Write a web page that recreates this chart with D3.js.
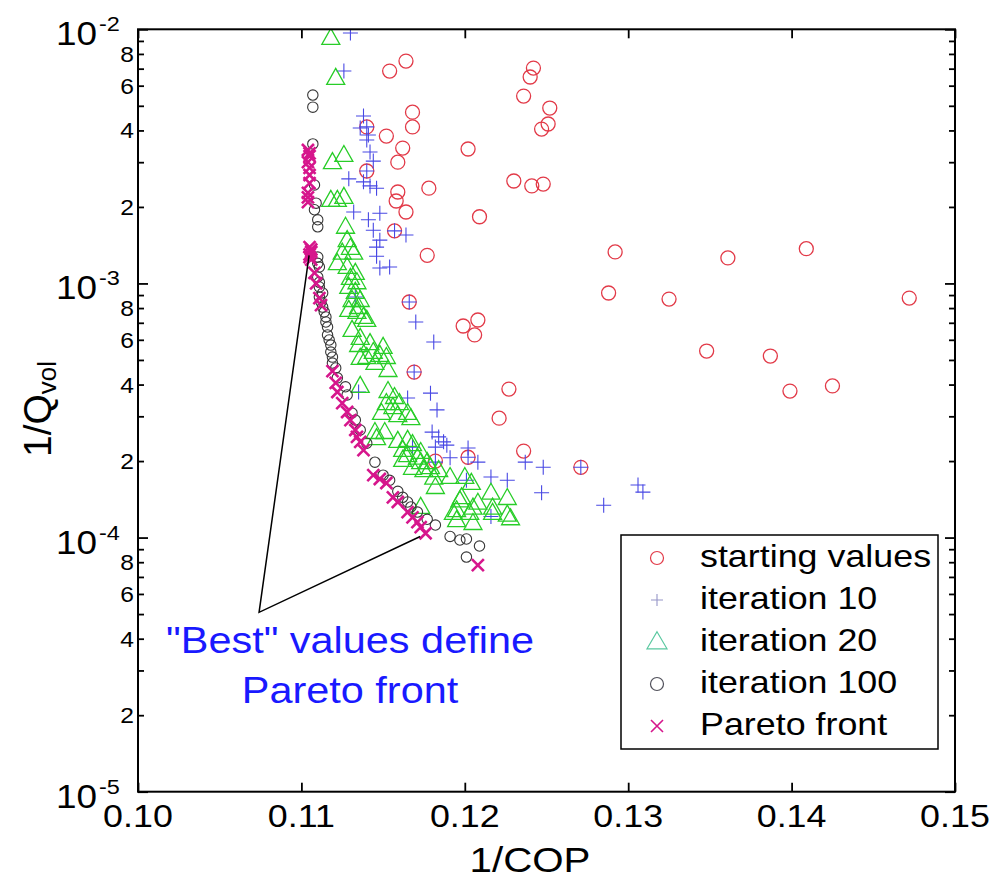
<!DOCTYPE html>
<html><head><meta charset="utf-8">
<script src="https://cdn.jsdelivr.net/npm/d3@7/dist/d3.min.js"></script>
<style>body{margin:0;background:#fff}svg{display:block}</style>
</head><body>
<svg id="c" width="996" height="879"></svg>
<script>
// ---------- data (1/COP, 1/Qvol) ----------
const startingValues = [[0.1154,6.85e-3],[0.1164,7.50e-3],[0.1242,7.04e-3],[0.1240,6.49e-3],[0.1236,5.46e-3],[0.1252,4.90e-3],[0.1251,4.24e-3],[0.1247,4.05e-3],[0.1168,4.72e-3],[0.1168,4.13e-3],[0.1140,4.13e-3],[0.1152,3.80e-3],[0.1162,3.41e-3],[0.1159,3.00e-3],[0.1202,3.38e-3],[0.1140,2.77e-3],[0.1159,2.29e-3],[0.1158,2.11e-3],[0.1164,1.91e-3],[0.1178,2.37e-3],[0.1230,2.53e-3],[0.1241,2.42e-3],[0.1248,2.46e-3],[0.1209,1.83e-3],[0.1157,1.61e-3],[0.1177,1.29e-3],[0.1292,1.33e-3],[0.1288,9.17e-4],[0.1325,8.68e-4],[0.1361,1.26e-3],[0.1409,1.37e-3],[0.1472,8.76e-4],[0.1348,5.42e-4],[0.1387,5.18e-4],[0.1399,3.77e-4],[0.1425,3.95e-4],[0.1271,1.89e-4],[0.1166,8.45e-4],[0.1199,6.80e-4],[0.1208,7.18e-4],[0.1206,6.27e-4],[0.1169,4.48e-4],[0.1227,3.84e-4],[0.1221,2.95e-4],[0.1236,2.19e-4],[0.1202,2.07e-4],[0.1182,2.00e-4]];

const iteration10 = [[0.1130,9.67e-3],[0.1126,6.85e-3],[0.1138,4.56e-3],[0.1136,4.09e-3],[0.1140,4.13e-3],[0.1141,3.84e-3],[0.1140,3.67e-3],[0.1142,3.29e-3],[0.1144,3.03e-3],[0.1129,2.58e-3],[0.1138,2.51e-3],[0.1142,2.42e-3],[0.1146,2.37e-3],[0.1140,2.77e-3],[0.1132,1.91e-3],[0.1141,1.78e-3],[0.1148,1.89e-3],[0.1144,1.62e-3],[0.1148,1.48e-3],[0.1146,1.39e-3],[0.1157,1.61e-3],[0.1164,1.55e-3],[0.1146,1.28e-3],[0.1148,1.15e-3],[0.1154,1.16e-3],[0.1166,8.45e-4],[0.1170,7.05e-4],[0.1181,5.88e-4],[0.1169,4.48e-4],[0.1133,8.84e-4],[0.1135,3.74e-4],[0.1165,3.54e-4],[0.1179,3.70e-4],[0.1183,3.18e-4],[0.1180,2.60e-4],[0.1184,2.49e-4],[0.1187,2.38e-4],[0.1189,2.31e-4],[0.1182,2.27e-4],[0.1168,2.27e-4],[0.1191,2.06e-4],[0.1202,2.25e-4],[0.1182,1.98e-4],[0.1208,1.98e-4],[0.1202,2.07e-4],[0.1216,1.73e-4],[0.1226,1.68e-4],[0.1237,1.98e-4],[0.1248,1.89e-4],[0.1247,1.50e-4],[0.1271,1.89e-4],[0.1285,1.34e-4],[0.1306,1.61e-4],[0.1309,1.51e-4],[0.1216,1.21e-4],[0.1201,1.68e-4]];

const iteration20 = [[0.1118,9.24e-3],[0.1121,6.43e-3],[0.1119,3.00e-3],[0.1126,3.20e-3],[0.1118,2.13e-3],[0.1122,2.13e-3],[0.1126,2.19e-3],[0.1127,1.67e-3],[0.1128,1.48e-3],[0.1130,1.38e-3],[0.1125,1.32e-3],[0.1132,1.32e-3],[0.1122,1.20e-3],[0.1128,1.16e-3],[0.1133,1.10e-3],[0.1130,1.05e-3],[0.1134,1.01e-3],[0.1129,9.68e-4],[0.1133,9.25e-4],[0.1131,8.60e-4],[0.1136,8.60e-4],[0.1135,8.07e-4],[0.1129,7.86e-4],[0.1134,7.72e-4],[0.1138,7.38e-4],[0.1140,7.18e-4],[0.1131,6.56e-4],[0.1136,6.10e-4],[0.1135,5.72e-4],[0.1142,5.82e-4],[0.1150,5.62e-4],[0.1144,5.37e-4],[0.1148,5.23e-4],[0.1136,5.09e-4],[0.1140,5.13e-4],[0.1152,5.13e-4],[0.1145,4.86e-4],[0.1153,4.56e-4],[0.1136,3.95e-4],[0.1153,3.77e-4],[0.1157,3.57e-4],[0.1156,3.26e-4],[0.1160,3.38e-4],[0.1152,3.38e-4],[0.1165,3.09e-4],[0.1149,3.09e-4],[0.1159,3.03e-4],[0.1167,2.95e-4],[0.1145,2.60e-4],[0.1151,2.60e-4],[0.1146,2.46e-4],[0.1159,2.40e-4],[0.1165,2.42e-4],[0.1168,2.33e-4],[0.1162,2.21e-4],[0.1173,2.17e-4],[0.1165,2.11e-4],[0.1162,2.02e-4],[0.1171,2.06e-4],[0.1173,1.98e-4],[0.1177,1.98e-4],[0.1168,1.88e-4],[0.1179,1.89e-4],[0.1175,1.84e-4],[0.1184,1.84e-4],[0.1191,1.73e-4],[0.1181,1.72e-4],[0.1200,1.73e-4],[0.1204,1.64e-4],[0.1182,1.58e-4],[0.1198,1.44e-4],[0.1208,1.37e-4],[0.1197,1.40e-4],[0.1216,1.50e-4],[0.1226,1.43e-4],[0.1195,1.28e-4],[0.1203,1.25e-4],[0.1193,1.25e-4],[0.1217,1.31e-4],[0.1205,1.31e-4],[0.1226,1.23e-4],[0.1228,1.19e-4],[0.1195,1.17e-4],[0.1205,1.14e-4],[0.1173,1.32e-4],[0.1217,1.25e-4]];

const iteration100 = [[0.1107,5.51e-3],[0.1107,4.94e-3],[0.1107,3.54e-3],[0.1108,2.44e-3],[0.1109,2.07e-3],[0.1108,1.95e-3],[0.1110,1.78e-3],[0.1110,1.67e-3],[0.1110,1.27e-3],[0.1110,1.20e-3],[0.1111,1.16e-3],[0.1110,1.06e-3],[0.1111,1.01e-3],[0.1111,9.68e-4],[0.1113,9.17e-4],[0.1111,8.84e-4],[0.1112,8.45e-4],[0.1113,8.07e-4],[0.1114,7.72e-4],[0.1115,7.38e-4],[0.1115,7.05e-4],[0.1116,6.74e-4],[0.1116,6.27e-4],[0.1117,5.99e-4],[0.1118,5.72e-4],[0.1118,5.37e-4],[0.1119,5.13e-4],[0.1119,4.86e-4],[0.1121,4.65e-4],[0.1122,4.25e-4],[0.1127,3.92e-4],[0.1128,3.64e-4],[0.1131,3.09e-4],[0.1133,2.90e-4],[0.1136,2.65e-4],[0.1140,2.35e-4],[0.1145,1.98e-4],[0.1150,1.76e-4],[0.1154,1.68e-4],[0.1159,1.52e-4],[0.1162,1.44e-4],[0.1165,1.38e-4],[0.1167,1.32e-4],[0.1171,1.26e-4],[0.1177,1.18e-4],[0.1182,1.12e-4],[0.1191,1.01e-4],[0.1197,9.78e-5],[0.1201,9.87e-5],[0.1209,9.26e-5],[0.1201,8.38e-5]];

const paretoFront = [[0.1104,3.35e-3],[0.1105,3.25e-3],[0.1105,3.17e-3],[0.1104,3.00e-3],[0.1105,2.85e-3],[0.1105,2.67e-3],[0.1105,2.48e-3],[0.1104,2.27e-3],[0.1104,2.18e-3],[0.1104,2.09e-3],[0.1105,1.39e-3],[0.1106,1.36e-3],[0.1106,1.33e-3],[0.1105,1.30e-3],[0.1105,1.27e-3],[0.1106,1.24e-3],[0.1108,1.10e-3],[0.1109,1.00e-3],[0.1111,8.76e-4],[0.1112,8.22e-4],[0.1119,4.52e-4],[0.1121,4.06e-4],[0.1122,3.74e-4],[0.1125,3.38e-4],[0.1128,3.12e-4],[0.1130,2.90e-4],[0.1133,2.65e-4],[0.1134,2.49e-4],[0.1136,2.38e-4],[0.1138,2.21e-4],[0.1144,1.76e-4],[0.1148,1.70e-4],[0.1152,1.64e-4],[0.1156,1.44e-4],[0.1159,1.38e-4],[0.1165,1.26e-4],[0.1168,1.20e-4],[0.1171,1.15e-4],[0.1173,1.10e-4],[0.1176,1.04e-4],[0.1208,7.79e-5]];

const xTicks = [0.10, 0.11, 0.12, 0.13, 0.14, 0.15];
const xTickLabels = ["0.10", "0.11", "0.12", "0.13", "0.14", "0.15"];
const yMajorTicks = [1e-2, 1e-3, 1e-4, 1e-5];
const yMajorExponents = ["-2", "-3", "-4", "-5"];
const yMinorLabelMantissas = [2, 4, 6, 8];
const legendLabels = ["starting values", "iteration 10", "iteration 20", "iteration 100", "Pareto front"];
const annotationLines = ['"Best" values define', "Pareto front"];
const annotationPointer = [[0.11047, 1.29e-3], [0.10741, 5.08e-5], [0.11727, 1.01e-4]];
const xAxisTitle = "1/COP";

// ---------- layout ----------
const FONT = "'Liberation Sans', Arial, Helvetica, sans-serif";
const SX = 1.12; // horizontal glyph stretch of the original
const svg = d3.select("#c").style("font-family", FONT);
const L = 138, R = 955, T = 29.3, B = 791.7;
const x = d3.scaleLinear().domain([0.10, 0.15]).range([L, R]);
const y = d3.scaleLog().domain([1e-5, 1e-2]).range([B, T]);

const colors = {
  start: "rgb(226,58,72)",
  it10: "rgb(72,72,228)",
  it20: "rgb(40,205,40)",
  it100: "rgb(55,55,55)",
  pareto: "rgb(214,22,140)"
};

function stretchedText(parent, px, py, str, size, anchor, fill) {
  return parent.append("text")
    .attr("transform", `translate(${px},${py}) scale(${SX},1)`)
    .attr("text-anchor", anchor)
    .attr("font-size", size)
    .attr("fill", fill || "#000")
    .text(str);
}

// ---------- axes ticks ----------
const minorVals = [];
[1e-5, 1e-4, 1e-3].forEach(d => { for (let k = 2; k <= 9; k++) minorVals.push(d * k); });

function styleAxis(g) {
  g.select(".domain").remove();
  g.selectAll(".tick line").attr("stroke", "#000").attr("stroke-width", 1.8);
  g.selectAll(".tick text").remove();
}
svg.append("g").attr("transform", `translate(0,${B})`)
  .call(d3.axisBottom(x).tickValues(xTicks).tickSize(-9)).call(styleAxis);
svg.append("g").attr("transform", `translate(0,${T})`)
  .call(d3.axisTop(x).tickValues(xTicks).tickSize(-9)).call(styleAxis);
svg.append("g").attr("transform", `translate(${L},0)`)
  .call(d3.axisLeft(y).tickValues(yMajorTicks).tickSize(-10)).call(styleAxis);
svg.append("g").attr("transform", `translate(${L},0)`)
  .call(d3.axisLeft(y).tickValues(minorVals).tickSize(-6)).call(styleAxis);
svg.append("g").attr("transform", `translate(${R},0)`)
  .call(d3.axisRight(y).tickValues(yMajorTicks).tickSize(-10)).call(styleAxis);
svg.append("g").attr("transform", `translate(${R},0)`)
  .call(d3.axisRight(y).tickValues(minorVals).tickSize(-6)).call(styleAxis);

// tick labels
xTicks.forEach((v, i) => stretchedText(svg, x(v), 827, xTickLabels[i], 32, "middle"));
yMajorTicks.forEach((v, i) => {
  stretchedText(svg, 97, y(v) + 16, "10", 33, "end");
  stretchedText(svg, 99, y(v) + 2, yMajorExponents[i], 21, "start");
});
[1e-5, 1e-4, 1e-3].forEach(d => yMinorLabelMantissas.forEach(m => {
  stretchedText(svg, 134, y(d * m) + 8, String(m), 22, "end");
}));

// axis titles
stretchedText(svg, 530, 872, xAxisTitle, 36, "middle");
const yt = svg.append("text")
  .attr("transform", "translate(51,457) rotate(-90)")
  .attr("font-size", 39).attr("text-anchor", "start");
yt.append("tspan").text("1/Q");
yt.append("tspan").attr("font-size", 26).attr("dy", 5).text("vol");

// ---------- markers ----------
svg.append("clipPath").attr("id", "clip").append("rect")
  .attr("x", L).attr("y", T).attr("width", R - L).attr("height", B - T);
const plot = svg.append("g").attr("clip-path", "url(#clip)");

function circles(g, data, r, color, sw) {
  g.selectAll(null).data(data).enter().append("circle")
    .attr("cx", d => x(d[0])).attr("cy", d => y(d[1])).attr("r", r)
    .attr("fill", "none").attr("stroke", color).attr("stroke-width", sw);
}
function crosses(g, data, h, color, sw) {
  g.selectAll(null).data(data).enter().append("path")
    .attr("d", d => { const cx = x(d[0]), cy = y(d[1]);
      return `M${cx - h},${cy}H${cx + h}M${cx},${cy - h}V${cy + h}`; })
    .attr("stroke", color).attr("stroke-width", sw).attr("fill", "none");
}
function triangles(g, data, w, hgt, color, sw) {
  g.selectAll(null).data(data).enter().append("path")
    .attr("d", d => { const cx = x(d[0]), cy = y(d[1]);
      return `M${cx},${cy - hgt * 0.6}L${cx + w / 2},${cy + hgt * 0.4}L${cx - w / 2},${cy + hgt * 0.4}Z`; })
    .attr("stroke", color).attr("stroke-width", sw).attr("fill", "none");
}
function xmarks(g, data, h, color, sw) {
  g.selectAll(null).data(data).enter().append("path")
    .attr("d", d => { const cx = x(d[0]), cy = y(d[1]);
      return `M${cx - h},${cy - h}L${cx + h},${cy + h}M${cx - h},${cy + h}L${cx + h},${cy - h}`; })
    .attr("stroke", color).attr("stroke-width", sw).attr("fill", "none");
}

circles(plot, startingValues, 7, colors.start, 1.3);
crosses(plot, iteration10, 7.5, colors.it10, 1.1);
triangles(plot, iteration20, 18, 16, colors.it20, 1.3);
circles(plot, iteration100, 5.2, colors.it100, 1.1);
xmarks(plot, paretoFront, 6, colors.pareto, 2.6);

// ---------- annotation ----------
svg.append("path")
  .attr("d", d3.line().x(d => x(d[0])).y(d => y(d[1]))(annotationPointer))
  .attr("fill", "none").attr("stroke", "#000").attr("stroke-width", 1.5);
annotationLines.forEach((t, i) => stretchedText(svg, 350, 653 + i * 50, t, 37, "middle", "rgb(25,25,255)"));

// ---------- legend ----------
const lg = svg.append("g");
lg.append("rect").attr("x", 621).attr("y", 535).attr("width", 317).attr("height", 214)
  .attr("fill", "#fff").attr("stroke", "#000").attr("stroke-width", 1.5);
const rowY = i => 558 + i * 42;
const symX = 657;
circles(lg, [[x.invert(symX), y.invert(rowY(0))]], 6.5, colors.start, 1.2);
crosses(lg, [[x.invert(symX), y.invert(rowY(1))]], 6, "rgb(150,150,200)", 1.1);
triangles(lg, [[x.invert(symX), y.invert(rowY(2))]], 20, 17, "rgb(90,200,160)", 1.2);
circles(lg, [[x.invert(symX), y.invert(rowY(3))]], 6.5, "rgb(80,80,90)", 1.2);
xmarks(lg, [[x.invert(symX), y.invert(rowY(4))]], 6, colors.pareto, 1.6);
legendLabels.forEach((t, i) => stretchedText(lg, 700, rowY(i) + 9, t, 32, "start"));

// frame
svg.append("rect").attr("x", L).attr("y", T).attr("width", R - L).attr("height", B - T)
  .attr("fill", "none").attr("stroke", "#000").attr("stroke-width", 2);
</script>
</body></html>
